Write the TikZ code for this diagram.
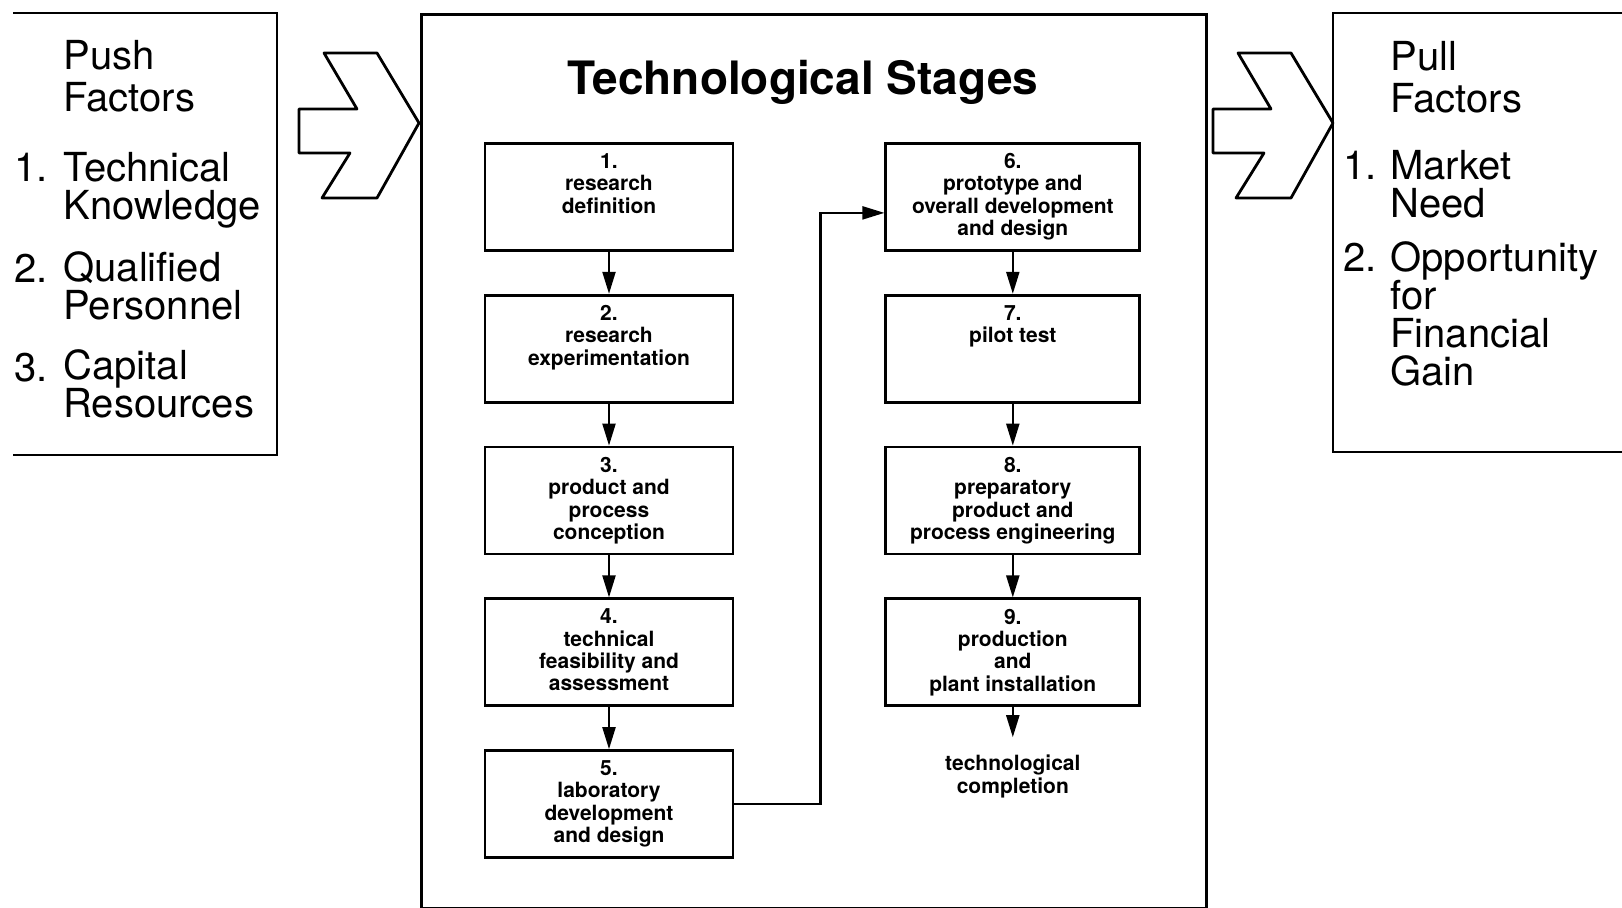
\documentclass[tikz,border=0pt]{standalone}
\usepackage{fontspec}
\setmainfont{TeX Gyre Heros}
\usetikzlibrary{positioning,arrows.meta}

\newcommand{\stagetext}[1]{\parbox[t][43.5pt][t]{118pt}{\centering #1}}

\begin{document}
\begin{tikzpicture}[
  x=0.5pt,y=-0.5pt,
  line width=1.4pt,
  stage/.style={draw,rectangle,inner xsep=3pt,inner ysep=4.8pt,
    minimum width=124pt,minimum height=53.5pt,
    font=\fontsize{10.5}{11.2}\selectfont\bfseries},
  wide/.style={minimum width=127pt},
  flow/.style={line width=1.1pt,-{Triangle[length=11pt,width=6.5pt]}},
  factorhead/.style={inner sep=0pt,align=left,font=\fontsize{20}{21}\selectfont},
  factor/.style={inner sep=0pt,align=left,font=\fontsize{20}{19}\selectfont},
  chevron/.pic={
    \draw[line join=round] (-95,-70) -- (-42,-70) -- (0,0) -- (-42,75) -- (-97,75)
      -- (-69,30) -- (-120,30) -- (-120,-14) -- (-62,-14) -- cycle;},
  node distance=21pt and 75pt
]
  \useasboundingbox (0,0) rectangle (1622,908);

  % push factors (multi-line nodes sit on their last baseline)
  \draw (13,13) -- (277,13) -- (277,455) -- (13,455);
  \node[factorhead,anchor=base west] (push) at (62,112) {Push\\Factors};
  \node[factor,anchor=base west] (push1) at (13,182) {1.};
  \node[factor,anchor=base west] (push1t) at (62,220) {Technical\\Knowledge};
  \node[factor,anchor=base west] (push2) at (13,283) {2.};
  \node[factor,anchor=base west] (push2t) at (62,320) {Qualified\\Personnel};
  \node[factor,anchor=base west] (push3) at (13,382) {3.};
  \node[factor,anchor=base west] (push3t) at (62,418) {Capital\\Resources};

  % pull factors
  \draw (1622,13) -- (1333,13) -- (1333,452) -- (1622,452);
  \node[factorhead,anchor=base west] (pull) at (1389,113) {Pull\\Factors};
  \node[factor,anchor=base west] (pull1) at (1342,180) {1.};
  \node[factor,anchor=base west] (pull1t) at (1389,218) {Market\\Need};
  \node[factor,anchor=base west] (pull2) at (1342,272) {2.};
  \node[factor,anchor=base west] (pull2t) at (1389,386) {Opportunity\\for\\Financial\\Gain};

  % stages
  \node[draw,inner sep=0pt,minimum width=392.5pt,minimum height=447pt,
    anchor=north west] (stages) at (420,13) {};
  \node[anchor=base,font=\fontsize{23}{26}\selectfont\bfseries] (title) at (803,95)
    {Technological Stages};

  \pic at (419,123) {chevron};
  \pic at (1333,123) {chevron};

  \node[stage,anchor=north] (s1) at (609,142) {\stagetext{1.\\research\\definition}};
  \node[stage,below=of s1] (s2) {\stagetext{2.\\research\\experimentation}};
  \node[stage,below=of s2] (s3) {\stagetext{3.\\product and\\process\\conception}};
  \node[stage,below=of s3] (s4) {\stagetext{4.\\technical\\feasibility and\\assessment}};
  \node[stage,below=of s4] (s5) {\stagetext{5.\\laboratory\\development\\and design}};
  \node[stage,wide,right=of s1] (s6) {\stagetext{6.\\prototype and\\overall development\\and design}};
  \node[stage,wide,below=of s6] (s7) {\stagetext{7.\\pilot test}};
  \node[stage,wide,below=of s7] (s8) {\stagetext{8.\\preparatory\\product and\\process engineering}};
  \node[stage,wide,below=of s8] (s9) {\stagetext{9.\\production\\and\\plant installation}};
  \node[below=of s9,inner sep=2pt,align=center,
    font=\fontsize{10.5}{11.6}\selectfont\bfseries] (done) {technological\\completion};

  \draw[flow] (s1) -- (s2);
  \draw[flow] (s2) -- (s3);
  \draw[flow] (s3) -- (s4);
  \draw[flow] (s4) -- (s5);
  \draw[flow] (s5.east) -- ++(43pt,0) |- ([yshift=-8pt]s6.west);
  \draw[flow] (s6) -- (s7);
  \draw[flow] (s7) -- (s8);
  \draw[flow] (s8) -- (s9);
  \draw[flow,shorten >=6pt] (s9) -- (done);
\end{tikzpicture}
\end{document}
